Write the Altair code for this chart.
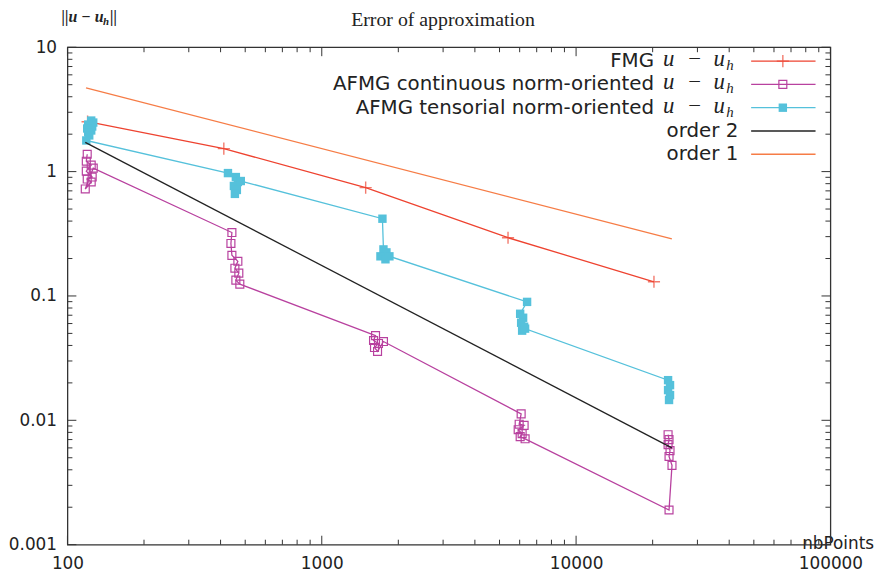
import altair as alt
import pandas as pd

# ---------------- data ----------------
fmg_x = [120, 412, 1488, 5400, 20240]
fmg_y = [2.52, 1.53, 0.743, 0.294, 0.130]

cont_x = [119.6, 118.6, 124.0, 118.6, 125.1, 119.6, 124.0, 117.5, 126.3,
          443.2, 439.3, 443.2, 467.8, 455.4, 471.9, 459.4, 476.2,
          1627, 1598, 1671, 1612, 1657, 1748,
          6081, 5973, 6247, 5920, 6136, 6027, 6303,
          23200, 23830, 23200, 23410, 23000, 23200, 23000]
cont_y = [1.379, 1.212, 1.127, 1.009, 0.904, 0.871, 0.825, 0.725, 1.066,
          0.3236, 0.2643, 0.2122, 0.190, 0.1671, 0.1525, 0.1341, 0.1246,
          0.048, 0.0438, 0.0415, 0.0385, 0.0358, 0.043,
          0.01127, 0.0093, 0.0091, 0.0084, 0.0078, 0.0074, 0.0071,
          0.0019, 0.00434, 0.00512, 0.00571, 0.00638, 0.00699, 0.00766]

tens_x = [124.0, 126.3, 120.7, 125.1, 119.6, 124.0, 120.7, 121.8, 118.6,
          427.7, 459.4, 467.8, 451.3, 463.6, 455.4, 480.5,
          1732, 1748, 1796, 1701, 1780, 1845,
          6417, 6027, 6191, 6081, 6247, 6136, 6303,
          23000, 23410, 23000, 23410, 23200]
tens_y = [2.573, 2.480, 2.391, 2.305, 2.222, 2.142, 2.065, 1.954, 1.78,
          0.973, 0.904, 0.825, 0.767, 0.712, 0.662, 0.840,
          0.418, 0.2368, 0.2241, 0.2083, 0.1972, 0.2083,
          0.0896, 0.0719, 0.0668, 0.0609, 0.0566, 0.0526, 0.0546,
          0.02103, 0.01918, 0.0175, 0.01596, 0.01457]

order2_x = [117.5, 23800]
order2_y = [1.72, 0.0060]
order1_x = [118.3, 23800]
order1_y = [4.71, 0.288]

series_names = ["fmg", "cont", "tens", "o2", "o1"]
series_colors = ["#ee4330", "#b8419f", "#55c1db", "#222222", "#f67c46"]
legend_labels = ["FMG", "AFMG continuous norm-oriented", "AFMG tensorial norm-oriented",
                 "order 2", "order 1"]

x_major = [100, 1000, 10000, 100000]
x_minor = [200, 300, 400, 500, 600, 700, 800, 900,
           2000, 3000, 4000, 5000, 6000, 7000, 8000, 9000,
           20000, 30000, 40000, 50000, 60000, 70000, 80000, 90000]
y_major = [0.001, 0.01, 0.1, 1, 10]
y_minor = [0.002, 0.003, 0.004, 0.005, 0.006, 0.007, 0.008, 0.009,
           0.02, 0.03, 0.04, 0.05, 0.06, 0.07, 0.08, 0.09,
           0.2, 0.3, 0.4, 0.5, 0.6, 0.7, 0.8, 0.9,
           2, 3, 4, 5, 6, 7, 8, 9]

W, H = 770, 502
SANS = "DejaVu Sans"
SERIF = "Liberation Serif"
PLUS = "M-1,0L1,0M0,-1L0,1"
TXT = "#222"


def frame(xs, ys):
    return pd.DataFrame({"x": xs, "y": ys, "i": list(range(len(xs)))})


xscale = alt.Scale(type="log", domain=[100, 100000], nice=False)
yscale = alt.Scale(type="log", domain=[0.001, 10], nice=False)
xaxis = alt.Axis(values=x_major, format="~g", title="nbPoints", grid=False,
                 ticks=False, tickSize=0, domain=False, labelFont=SANS,
                 labelFontSize=17, labelColor=TXT, labelPadding=11,
                 labelFlush=False,
                 titleFont=SANS, titleFontSize=17, titleFontWeight="normal",
                 titleColor=TXT, titleAnchor="start", titleAlign="left",
                 titleBaseline="middle", titleX=741, titleY=-1)
yaxis = alt.Axis(values=y_major, format="~g", title=None, grid=False,
                 ticks=False, tickSize=0, domain=False, labelFont=SANS,
                 labelFontSize=17, labelColor=TXT, labelPadding=11,
                 labelFlush=False)

X = alt.X("x:Q", scale=xscale, axis=xaxis)
Y = alt.Y("y:Q", scale=yscale, axis=yaxis)

layers = []


def line_layer(df, color):
    return alt.Chart(df).mark_line(color=color, strokeWidth=1.3, clip=True).encode(
        x=X, y=Y, order="i:Q")


# FMG
d = frame(fmg_x, fmg_y)
layers.append(line_layer(d, series_colors[0]))
layers.append(alt.Chart(d).mark_point(shape=PLUS, size=150, color=series_colors[0],
                                      strokeWidth=1.4, filled=False).encode(x=X, y=Y))
# AFMG continuous
d = frame(cont_x, cont_y)
layers.append(line_layer(d, series_colors[1]))
layers.append(alt.Chart(d).mark_point(shape="square", size=64, color=series_colors[1],
                                      strokeWidth=1.2, filled=False, opacity=1).encode(x=X, y=Y))
# AFMG tensorial
d = frame(tens_x, tens_y)
layers.append(line_layer(d, series_colors[2]))
layers.append(alt.Chart(d).mark_point(shape="square", size=72, color=series_colors[2],
                                      filled=True, opacity=1).encode(x=X, y=Y))
# orders
layers.append(line_layer(frame(order2_x, order2_y), series_colors[3]))
layers.append(line_layer(frame(order1_x, order1_y), series_colors[4]))

# inward ticks on all four sides
tick_col = "#333"
for vals, L in ((x_major, 9), (x_minor, 5)):
    t = pd.DataFrame({"x": vals})
    layers.append(alt.Chart(t).mark_rule(color=tick_col, strokeWidth=1).encode(
        x=X, y=alt.value(H - L), y2=alt.value(H)))
    layers.append(alt.Chart(t).mark_rule(color=tick_col, strokeWidth=1).encode(
        x=X, y=alt.value(0), y2=alt.value(L)))
for vals, L in ((y_major, 9), (y_minor, 5)):
    t = pd.DataFrame({"y": vals})
    layers.append(alt.Chart(t).mark_rule(color=tick_col, strokeWidth=1).encode(
        y=Y, x=alt.value(0), x2=alt.value(L)))
    layers.append(alt.Chart(t).mark_rule(color=tick_col, strokeWidth=1).encode(
        y=Y, x=alt.value(W - L), x2=alt.value(W)))

one = pd.DataFrame({"a": [0]})


def txt(text, x, y, font=SANS, size=18, align="left", baseline="alphabetic",
        style="normal", weight="normal"):
    return alt.Chart(one).mark_text(text=text, font=font, fontSize=size, color=TXT,
                                    align=align, baseline=baseline, fontStyle=style,
                                    fontWeight=weight).encode(
        x=alt.value(x), y=alt.value(y))


# titles
layers.append(txt("Error of approximation", 379, -27, font=SERIF, size=20,
                  align="center", baseline="middle"))
layers.append(txt("||u − u", -6, -25, font=SERIF, size=16, style="italic", weight="bold"))
layers.append(txt("h", 36, -22, font=SERIF, size=11, style="italic", weight="bold"))
layers.append(txt("||", 43, -25, font=SERIF, size=16, style="italic", weight="bold"))

# legend (gnuplot style: text right-aligned, sample on the right)
row_y = [14, 37.5, 61, 84.5, 108]
for k, name in enumerate(series_names):
    py = row_y[k]
    col = series_colors[k]
    has_math = k < 3
    layers.append(txt(legend_labels[k], 592 if has_math else 677, py, size=20,
                      align="right", baseline="middle"))
    if has_math:
        layers.append(txt("u", 601, py + 5, font=SERIF, size=23, style="italic"))
        layers.append(txt("−", 633, py + 5, font=SERIF, size=23, align="center"))
        layers.append(txt("u", 652, py + 5, font=SERIF, size=23, style="italic"))
        layers.append(txt("h", 665, py + 9, font=SERIF, size=15, style="italic"))
    layers.append(alt.Chart(one).mark_rule(color=col, strokeWidth=1.3).encode(
        x=alt.value(690), x2=alt.value(755), y=alt.value(py)))
    if k == 0:
        layers.append(alt.Chart(one).mark_point(shape=PLUS, size=150, color=col,
                                                strokeWidth=1.4, filled=False).encode(
            x=alt.value(722), y=alt.value(py)))
    elif k == 1:
        layers.append(alt.Chart(one).mark_point(shape="square", size=64, color=col,
                                                strokeWidth=1.2, filled=False, opacity=1).encode(
            x=alt.value(722), y=alt.value(py)))
    elif k == 2:
        layers.append(alt.Chart(one).mark_point(shape="square", size=72, color=col,
                                                filled=True, opacity=1).encode(
            x=alt.value(722), y=alt.value(py)))

chart = alt.layer(*layers).properties(
    width=W, height=H,
    autosize=alt.AutoSizeParams(type="none"),
    padding={"left": 60, "top": 37, "right": 44, "bottom": 28},
    background="white",
).configure_view(stroke="#333", strokeWidth=1.3)

chart.save("out.html", embed_options={"renderer": "svg", "actions": False})
